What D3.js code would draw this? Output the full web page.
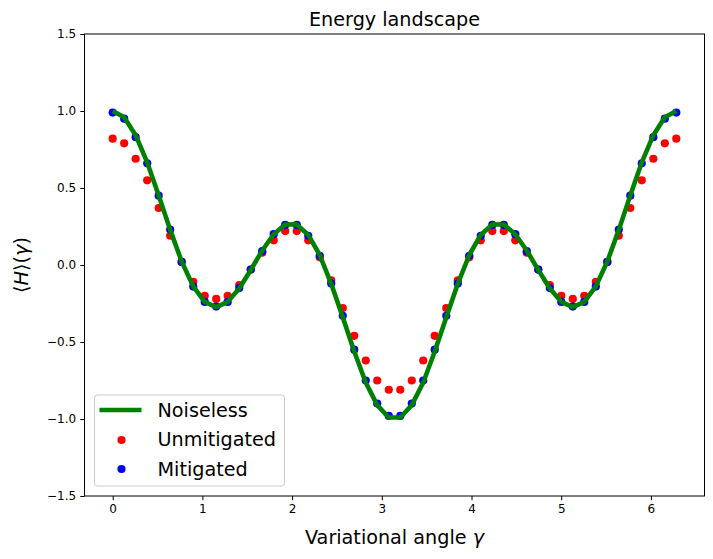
<!DOCTYPE html>
<html>
<head>
  <meta charset="UTF-8">
  <style>
    body { margin: 0; background: white; font-family: "DejaVu Sans", sans-serif; }
    svg text { font-family: "DejaVu Sans", sans-serif; fill: black; }
  </style>
</head>
<body>
<svg id="chart" width="713" height="559"></svg>
<script src="https://d3js.org/d3.v7.min.js"></script>
<script>

// sample angles (50 points from 0 to 2*pi)
let gamma = [0.000, 0.128, 0.256, 0.385, 0.513, 0.641, 0.769, 0.898, 1.026, 1.154,
             1.282, 1.411, 1.539, 1.667, 1.795, 1.923, 2.052, 2.180, 2.308, 2.436,
             2.565, 2.693, 2.821, 2.949, 3.078, 3.206, 3.334, 3.462, 3.590, 3.719,
             3.847, 3.975, 4.103, 4.232, 4.360, 4.488, 4.616, 4.744, 4.873, 5.001,
             5.129, 5.257, 5.386, 5.514, 5.642, 5.770, 5.898, 6.027, 6.155, 6.283];

let noiseless = [1.000, 0.959, 0.843, 0.666, 0.452, 0.228, 0.023, -0.139, -0.240, -0.273,
                 -0.239, -0.153, -0.032, 0.094, 0.200, 0.263, 0.264, 0.195, 0.065, -0.122,
                 -0.339, -0.562, -0.763, -0.910, -0.990, -0.990, -0.910, -0.763, -0.562, -0.339,
                 -0.122, 0.065, 0.195, 0.264, 0.263, 0.200, 0.094, -0.032, -0.153, -0.239,
                 -0.273, -0.240, -0.139, 0.023, 0.228, 0.452, 0.666, 0.843, 0.959, 1.000];

let unmitigated = [0.82, 0.79, 0.69, 0.55, 0.37, 0.19, 0.02, -0.11, -0.20, -0.22,
                   -0.20, -0.13, -0.03, 0.08, 0.16, 0.22, 0.22, 0.16, 0.05, -0.10,
                   -0.28, -0.46, -0.62, -0.75, -0.81, -0.81, -0.75, -0.62, -0.46, -0.28,
                   -0.10, 0.05, 0.16, 0.22, 0.22, 0.16, 0.08, -0.03, -0.13, -0.20,
                   -0.22, -0.20, -0.11, 0.02, 0.19, 0.37, 0.55, 0.69, 0.79, 0.82];

let mitigated = [0.99, 0.95, 0.83, 0.66, 0.45, 0.23, 0.02, -0.14, -0.24, -0.27,
                 -0.24, -0.15, -0.03, 0.09, 0.20, 0.26, 0.26, 0.19, 0.06, -0.12,
                 -0.33, -0.55, -0.75, -0.90, -0.98, -0.98, -0.90, -0.75, -0.55, -0.33,
                 -0.12, 0.06, 0.19, 0.26, 0.26, 0.20, 0.09, -0.03, -0.15, -0.24,
                 -0.27, -0.24, -0.14, 0.02, 0.23, 0.45, 0.66, 0.83, 0.95, 0.99];

let xTicks = [0, 1, 2, 3, 4, 5, 6];
let yTicks = [-1.5, -1.0, -0.5, 0.0, 0.5, 1.0, 1.5];

let m = {left: 84.5, right: 704.5, top: 34, bottom: 496};

let svg = d3.select("#chart");

let x = d3.scaleLinear().domain([-0.3142, 6.5973]).range([m.left, m.right]);
let y = d3.scaleLinear().domain([-1.5, 1.5]).range([m.bottom, m.top]);

let fmtY = d => d3.format(".1f")(d).replace("-", "\u2212");

// axes
let xAxis = svg.append("g")
    .attr("transform", `translate(0,${m.bottom})`)
    .call(d3.axisBottom(x).tickValues(xTicks).tickSize(4.2).tickPadding(4.2).tickFormat(d3.format("d")));

let yAxis = svg.append("g")
    .attr("transform", `translate(${m.left},0)`)
    .call(d3.axisLeft(y).tickValues(yTicks).tickSize(4.2).tickPadding(4.2).tickFormat(fmtY));

[xAxis, yAxis].forEach(a => {
  a.select(".domain").remove();
  a.selectAll(".tick line").attr("stroke", "black").attr("stroke-width", 1);
  a.selectAll(".tick text").attr("font-size", 12).attr("font-family", "DejaVu Sans");
});

// frame
svg.append("rect")
    .attr("x", m.left).attr("y", m.top)
    .attr("width", m.right - m.left).attr("height", m.bottom - m.top)
    .attr("fill", "none").attr("stroke", "black").attr("stroke-width", 1);

// data
let plot = svg.append("g");

plot.selectAll("circle.unmit")
    .data(gamma)
    .enter().append("circle")
    .attr("class", "unmit")
    .attr("cx", d => x(d))
    .attr("cy", (d, i) => y(unmitigated[i]))
    .attr("r", 4.1)
    .attr("fill", "red");

plot.selectAll("circle.mit")
    .data(gamma)
    .enter().append("circle")
    .attr("class", "mit")
    .attr("cx", d => x(d))
    .attr("cy", (d, i) => y(mitigated[i]))
    .attr("r", 4.1)
    .attr("fill", "blue");

let line = d3.line().x(d => x(d[0])).y(d => y(d[1]));
plot.append("path")
    .datum(gamma.map((g, i) => [g, noiseless[i]]))
    .attr("d", line)
    .attr("fill", "none")
    .attr("stroke", "green")
    .attr("stroke-width", 4.6)
    .attr("stroke-linejoin", "round");

// title and labels
svg.append("text")
    .attr("x", (m.left + m.right) / 2).attr("y", 26)
    .attr("text-anchor", "middle")
    .attr("font-size", 19.2)
    .text("Energy landscape");

let xl = svg.append("text")
    .attr("x", (m.left + m.right) / 2).attr("y", 544)
    .attr("text-anchor", "middle")
    .attr("font-size", 19.2);
xl.append("tspan").text("Variational angle ");
xl.append("tspan").attr("font-style", "italic").text("\u03b3");

let yl = svg.append("text")
    .attr("transform", `translate(28,${(m.top + m.bottom) / 2}) rotate(-90)`)
    .attr("text-anchor", "middle")
    .attr("font-size", 19.2);
yl.append("tspan").text("\u27e8");
yl.append("tspan").attr("font-style", "italic").text("H");
yl.append("tspan").text("\u27e9(");
yl.append("tspan").attr("font-style", "italic").text("\u03b3");
yl.append("tspan").text(")");

// legend
let legend = svg.append("g").attr("transform", "translate(94.5,395)");
legend.append("rect")
    .attr("width", 190).attr("height", 91)
    .attr("rx", 3)
    .attr("fill", "white").attr("fill-opacity", 0.8)
    .attr("stroke", "#cccccc").attr("stroke-width", 1);

legend.append("line")
    .attr("x1", 5).attr("x2", 47).attr("y1", 15).attr("y2", 15)
    .attr("stroke", "green").attr("stroke-width", 4.6);
legend.append("circle").attr("cx", 27).attr("cy", 45).attr("r", 4.1).attr("fill", "red");
legend.append("circle").attr("cx", 27).attr("cy", 74).attr("r", 4.1).attr("fill", "blue");

["Noiseless", "Unmitigated", "Mitigated"].forEach((t, i) => {
  legend.append("text")
      .attr("x", 63).attr("y", 15 + i * 29.5)
      .attr("dy", "0.36em")
      .attr("font-size", 19.2)
      .text(t);
});

</script>
</body>
</html>
